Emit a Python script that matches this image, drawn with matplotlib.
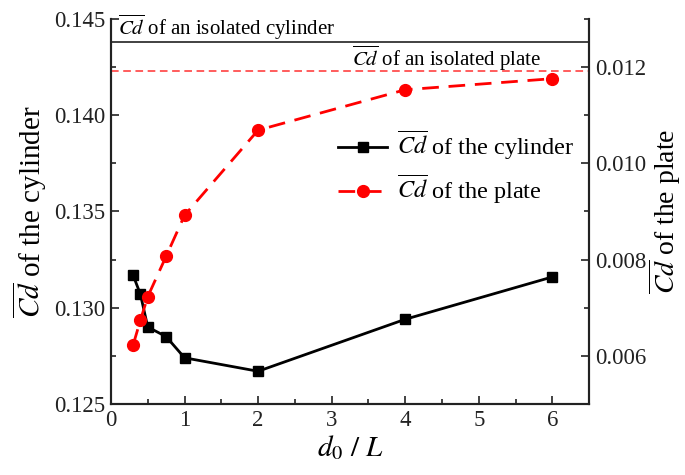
import matplotlib
matplotlib.use("Agg")
import matplotlib.pyplot as plt
from matplotlib.ticker import MultipleLocator, FormatStrFormatter

plt.rcParams['font.family'] = ['Liberation Serif', 'DejaVu Serif']
plt.rcParams['mathtext.fontset'] = 'stix'

# spacing ratio d0/L
d_ratio = [0.3, 0.4, 0.5, 0.75, 1, 2, 4, 6]
# mean drag coefficient of the cylinder (left axis)
cd_cylinder = [0.1317, 0.1307, 0.1290, 0.1285, 0.1274, 0.1267, 0.1294, 0.1316]
# mean drag coefficient of the plate (right axis)
cd_plate = [0.00622, 0.00674, 0.00723, 0.00807, 0.00892, 0.01069, 0.01153, 0.01176]
# reference values for isolated bodies
cd_iso_cylinder = 0.1438
cd_iso_plate = 0.01191

fig = plt.figure(figsize=(6.85, 4.75), dpi=100)
ax = fig.add_axes([0.162, 0.1495, 0.698, 0.8105])
ax2 = ax.twinx()

cd_bar = r'$\overline{Cd}$'

ax.axhline(cd_iso_cylinder, color='#333333', lw=1.3)
l1, = ax.plot(d_ratio, cd_cylinder, color='black', lw=2, marker='s',
              markersize=7, label=cd_bar + ' of the cylinder')

ax2.axhline(cd_iso_plate, color='#ff3030', lw=1.1, ls=(0, (5, 3)))
l2, = ax2.plot(d_ratio, cd_plate, color='#ff0000', lw=2, ls=(0, (6, 3.5)),
               marker='o', markersize=8.5, label=cd_bar + ' of the plate')

ax.set_xlim(0, 6.5)
ax.set_ylim(0.125, 0.145)
ax2.set_ylim(0.005, 0.013)

ax.xaxis.set_major_locator(MultipleLocator(1))
ax.xaxis.set_minor_locator(MultipleLocator(0.5))
ax.yaxis.set_major_locator(MultipleLocator(0.005))
ax.yaxis.set_minor_locator(MultipleLocator(0.0025))
ax2.yaxis.set_major_locator(MultipleLocator(0.002))
ax2.yaxis.set_minor_locator(MultipleLocator(0.001))
ax.yaxis.set_major_formatter(FormatStrFormatter('%.3f'))
ax2.yaxis.set_major_formatter(FormatStrFormatter('%.3f'))

for a in (ax, ax2):
    a.spines['top'].set_visible(False)
    for s in a.spines.values():
        s.set_linewidth(1.5)
        s.set_color('#222222')
    a.tick_params(which='both', direction='in', width=1.2, labelsize=16.5,
                  colors='#222222', pad=4)
    a.tick_params(which='major', length=6)
    a.tick_params(which='minor', length=3.5)
ax.tick_params(axis='y', right=False, which='both')
ax2.tick_params(axis='y', left=False, which='both')

ax.set_xlabel(r'$d_0\ /\ L$', fontsize=21, labelpad=2)
ax.set_ylabel(cd_bar + ' of the cylinder', fontsize=21, labelpad=4)
ax2.set_ylabel(cd_bar + ' of the plate', fontsize=20, rotation=90, labelpad=0)

ax.text(0.1, cd_iso_cylinder + 0.00003, cd_bar + ' of an isolated cylinder',
        fontsize=15, ha='left', va='bottom')
ax2.text(5.85, cd_iso_plate - 0.00003, cd_bar + ' of an isolated plate',
         fontsize=15, ha='right', va='bottom')

ax2.legend(handles=[l1, l2], loc='upper left', bbox_to_anchor=(0.43, 0.77),
           frameon=False, fontsize=17.5, handlelength=2.0, handletextpad=0.4,
           labelspacing=0.45)

fig.savefig('out.png', dpi=100)
